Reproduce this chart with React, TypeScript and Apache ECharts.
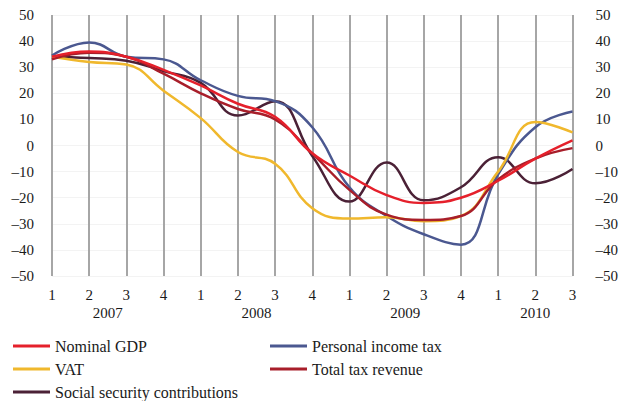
import React, { useEffect, useRef } from "react";
import * as echarts from "echarts";

const quarters = ["1", "2", "3", "4", "1", "2", "3", "4", "1", "2", "3", "4", "1", "2", "3"];
const years = ["2007", "2008", "2009", "2010"];
// each year label is centred between these two quarter indices
const yearAnchors = [[1, 2], [5, 6], [9, 10], [13, 13]];

const nominalGDP = [34, 36, 34, 29, 23, 16, 11, -3, -11.5, -19, -22, -20, -13.5, -5, 2];
const vat = [34, 32, 31, 21, 10.5, -2.5, -7, -24, -28, -27.5, -29, -27, -10, 9, 5];
const socialSecurity = [34, 33.5, 32.5, 28.5, 24, 11.5, 17, -4, -21.5, -6.5, -21, -16, -4.5, -14.5, -9];
const personalIncomeTax = [34.5, 39.5, 34, 33, 25, 19, 17, 7, -16, -27, -34, -38, -11, 7, 13];
const totalTaxRevenue = [33, 35.5, 34, 27.5, 20, 14, 10, -3, -17, -26.5, -28.5, -27, -13, -5, -1];

const FONT = "'Times New Roman', Times, 'Liberation Serif', serif";
const TEXT = "#1a1a1a";
const GRIDV = "#a6a6a6";

export default function App() {
  const ref = useRef<HTMLDivElement>(null);
  useEffect(() => {
    if (!ref.current) return;
    const chart = echarts.init(ref.current, undefined, { renderer: "svg" });
    const fmt = (v: number) => String(v).replace("-", "\u2013");
    const mk = (name: string, data: number[], color: string) => ({
      name,
      type: "line",
      data,
      smooth: 0.45,
      showSymbol: false,
      symbol: "none",
      lineStyle: { color, width: 2.5 },
      itemStyle: { color },
      xAxisIndex: 0,
      yAxisIndex: 0,
    });
    const legendCommon = {
      orient: "vertical",
      top: 333,
      height: 90,
      itemWidth: 37,
      itemHeight: 3,
      itemGap: 7,
      itemTextGap: 10,
      icon: "rect",
      textStyle: { fontFamily: FONT, fontSize: 16, color: TEXT },
    };
    chart.setOption({
      animation: false,
      textStyle: { fontFamily: FONT },
      grid: { left: 52, right: 39, top: 15, bottom: 125 },
      legend: [
        { ...legendCommon, left: 8, data: ["Nominal GDP", "VAT", "Social security contributions"] },
        { ...legendCommon, left: 265, data: ["Personal income tax", "Total tax revenue"] },
      ],
      xAxis: [
        {
          type: "category",
          data: quarters,
          boundaryGap: false,
          axisLine: { show: false },
          axisTick: { show: true, length: 3, lineStyle: { color: GRIDV, width: 2 } },
          splitLine: { show: true, lineStyle: { color: GRIDV, width: 2 } },
          axisLabel: { fontFamily: FONT, fontSize: 15, color: TEXT, margin: 11, interval: 0 },
        },
        {
          type: "category",
          data: quarters,
          boundaryGap: false,
          position: "top",
          axisLine: { show: false },
          axisTick: { show: true, length: 7, lineStyle: { color: GRIDV, width: 2 } },
          splitLine: { show: false },
          axisLabel: { show: false },
        },
      ],
      yAxis: [
        {
          type: "value",
          min: -50,
          max: 50,
          interval: 10,
          axisLine: { show: false },
          axisTick: { show: false },
          splitLine: { show: true, lineStyle: { color: "#f3f3f3", width: 1 } },
          axisLabel: { fontFamily: FONT, fontSize: 15, color: TEXT, margin: 18, formatter: fmt },
        },
        {
          type: "value",
          min: -50,
          max: 50,
          interval: 10,
          position: "right",
          axisLine: { show: false },
          axisTick: { show: false },
          splitLine: { show: false },
          axisLabel: { fontFamily: FONT, fontSize: 15, color: TEXT, margin: 23, formatter: fmt },
        },
      ],
      series: [
        mk("Social security contributions", socialSecurity, "#4b2136"),
        mk("Personal income tax", personalIncomeTax, "#4b5890"),
        mk("VAT", vat, "#f0b82d"),
        mk("Total tax revenue", totalTaxRevenue, "#a81e2a"),
        mk("Nominal GDP", nominalGDP, "#e5202b"),
      ],
    });
    const px = (i: number) => chart.convertToPixel({ xAxisIndex: 0 }, i) as number;
    chart.setOption({
      graphic: years.map((y, i) => ({
        type: "text",
        x: (px(yearAnchors[i][0]) + px(yearAnchors[i][1])) / 2,
        y: 313,
        style: {
          text: y,
          textAlign: "center",
          textVerticalAlign: "middle",
          fontFamily: FONT,
          fontSize: 15,
          fill: TEXT,
        },
      })),
    });
    return () => chart.dispose();
  }, []);
  return <div ref={ref} style={{ width: 621, height: 401, position: "absolute", left: 0, top: 0 }} />;
}
